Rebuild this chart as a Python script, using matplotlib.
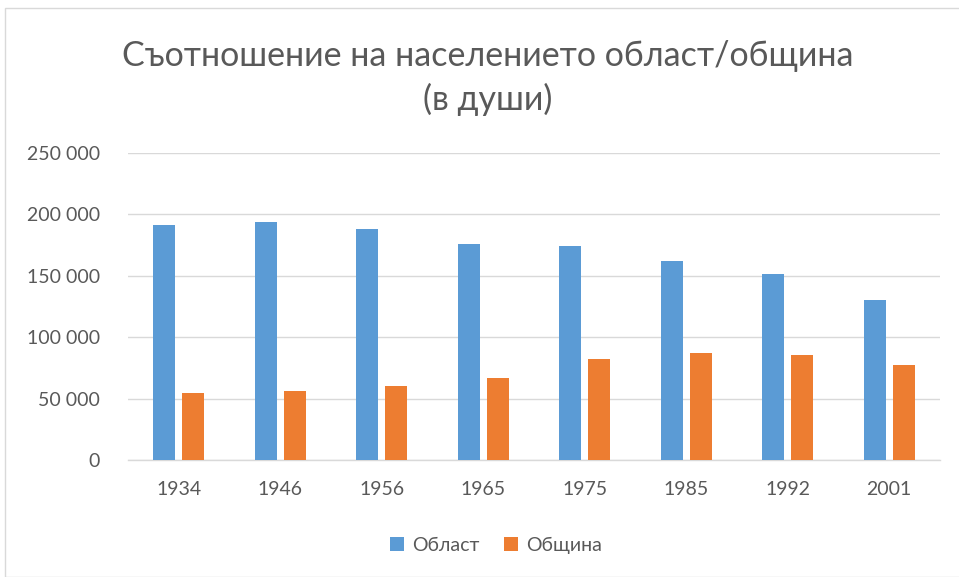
import matplotlib
matplotlib.use("Agg")
import matplotlib.pyplot as plt
import numpy as np
from matplotlib.patches import Rectangle
from matplotlib.ticker import FuncFormatter

years = ["1934", "1946", "1956", "1965", "1975", "1985", "1992", "2001"]
oblast = [191600, 194100, 188400, 176200, 174000, 162000, 151700, 130000]
obshtina = [54800, 56200, 60300, 67000, 82500, 87100, 85800, 77400]
series_names = ["Област", "Община"]
title = "Съотношение на населението област/община\n(в души)"

plt.rcParams['font.family'] = ['Lato', 'DejaVu Sans']
txt = "#595959"

fig = plt.figure(figsize=(9.59, 5.77), dpi=100)
fig.patches.append(Rectangle((5/959, 0), 1, 1 - 8/577, transform=fig.transFigure,
                             fill=False, edgecolor="#D9D9D9", linewidth=1))

ax = fig.add_axes([128/959, 1 - 460/577, (940 - 128)/959, (460 - 153)/577])
x = np.arange(len(years))
w = 0.22
ax.bar(x - 0.143, oblast, w, color="#5B9BD5", label=series_names[0], zorder=3)
ax.bar(x + 0.143, obshtina, w, color="#ED7D31", label=series_names[1], zorder=3)

ax.set_xlim(-0.5, len(years) - 0.5)
ax.set_ylim(0, 250000)
ax.set_yticks(np.arange(0, 250001, 50000))
ax.yaxis.set_major_formatter(FuncFormatter(lambda v, p: f"{int(v):,}".replace(",", " ")))
ax.set_xticks(x)
ax.set_xticklabels(years)
ax.grid(axis="y", color="#D9D9D9", linewidth=1, zorder=0)
for s in ["top", "right", "left"]:
    ax.spines[s].set_visible(False)
ax.spines["bottom"].set_color("#D9D9D9")
ax.spines["bottom"].set_linewidth(1)
ax.tick_params(axis="both", length=0, labelsize=14, colors=txt)
ax.tick_params(axis="y", pad=20)
ax.tick_params(axis="x", pad=15)

fig.text(488/959, 1 - 78/577, title, ha="center", va="center", fontsize=24.5,
         color=txt, linespacing=1.42)

ax.legend(loc="center", bbox_to_anchor=(496/959, 1 - 545/577), bbox_transform=fig.transFigure,
          ncol=2, frameon=False, fontsize=14, labelcolor=txt, handlelength=0.7,
          handleheight=0.7, columnspacing=1.3, handletextpad=0.4)

fig.savefig("out.png", dpi=100)
